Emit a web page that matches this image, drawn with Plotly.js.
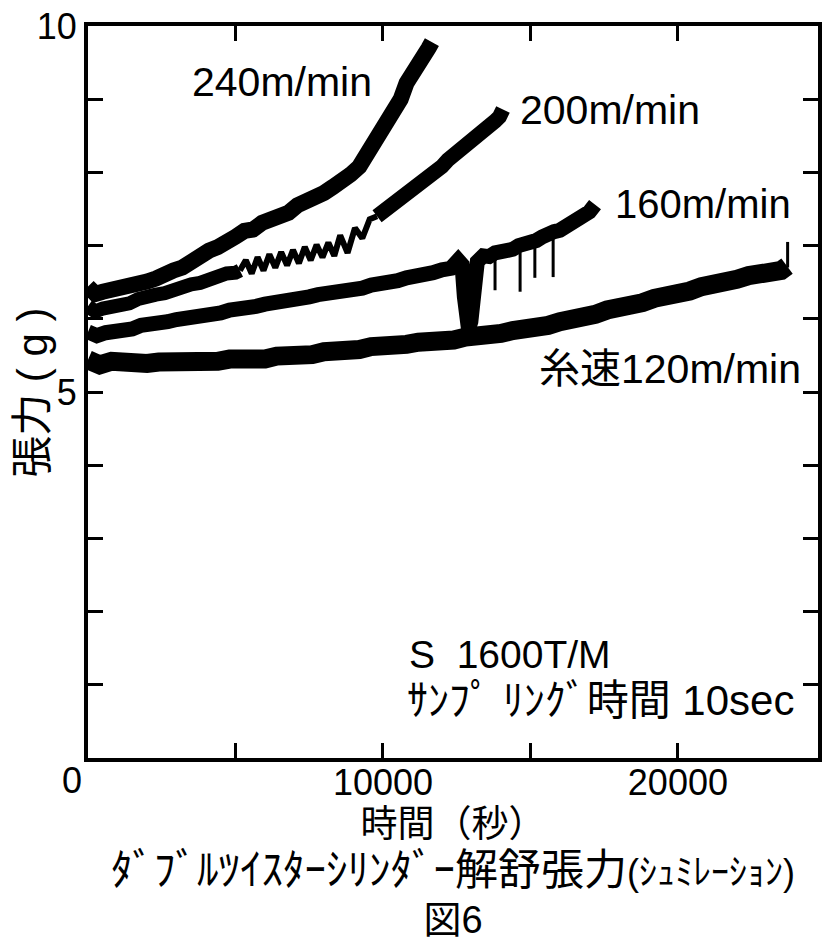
<!DOCTYPE html>
<html>
<head>
<meta charset="utf-8">
<script src="https://cdn.plot.ly/plotly-3.0.1.min.js"></script>
<style>html,body{margin:0;padding:0;background:#fff;}#chart{width:822px;height:949px;}</style>
</head>
<body>
<div id="chart"></div>
<script>
// ---- Data (time in seconds, tension in grams) ----
// 240 m/min
const t240 = [0, 250, 500, 800, 1100, 1400, 1700, 2000, 2300, 2600, 2900, 3200, 3500, 3800, 4100, 4400, 4700, 5000, 5300, 5600, 5900, 6200, 6500, 6800, 7100, 7400, 7700, 8000, 8300, 8600, 8900, 9200, 9450, 9700, 9950, 10200, 10400, 10600, 10800, 11000, 11200, 11400, 11550, 11660];
const g240 = [6.44, 6.34, 6.37, 6.39, 6.42, 6.44, 6.49, 6.51, 6.55, 6.58, 6.66, 6.70, 6.79, 6.84, 6.93, 6.98, 7.08, 7.12, 7.20, 7.22, 7.31, 7.35, 7.42, 7.45, 7.55, 7.59, 7.67, 7.72, 7.80, 7.87, 7.97, 8.08, 8.24, 8.36, 8.55, 8.66, 8.82, 9.00, 9.22, 9.38, 9.52, 9.63, 9.70, 9.78];
// 200 m/min (thick part, zig-zag part, thick part)
const t200a = [0, 250, 500, 800, 1100, 1400, 1700, 2000, 2300, 2600, 2900, 3200, 3500, 3800, 4100, 4400, 4700, 5000, 5150];
const g200a = [6.17, 6.10, 6.14, 6.15, 6.20, 6.21, 6.27, 6.28, 6.33, 6.35, 6.40, 6.42, 6.47, 6.49, 6.55, 6.56, 6.62, 6.63, 6.66];
const t200z = [5150, 5350, 5550, 5750, 5950, 6150, 6350, 6550, 6750, 6950, 7150, 7350, 7550, 7750, 7950, 8150, 8350, 8550, 8800, 9050, 9300, 9550, 9800];
const g200z = [6.66, 6.80, 6.62, 6.84, 6.66, 6.88, 6.70, 6.91, 6.73, 6.94, 6.76, 6.98, 6.80, 7.01, 6.84, 7.04, 6.86, 7.14, 6.90, 7.24, 7.10, 7.36, 7.40];
const t200b = [9800, 10000, 10200, 10400, 10600, 10800, 11000, 11200, 11400, 11600, 11800, 12000, 12200, 12400, 12600, 12800, 13000, 13200, 13400, 13600, 13800, 13950, 14070];
const g200b = [7.40, 7.46, 7.53, 7.57, 7.64, 7.68, 7.76, 7.81, 7.89, 7.95, 8.03, 8.08, 8.17, 8.23, 8.32, 8.37, 8.45, 8.50, 8.58, 8.62, 8.70, 8.76, 8.86];
// 160 m/min
const t160 = [0, 300, 600, 900, 1200, 1500, 1800, 2100, 2400, 2700, 3000, 3300, 3600, 3900, 4200, 4500, 4800, 5100, 5400, 5700, 6000, 6300, 6600, 6900, 7200, 7500, 7800, 8100, 8400, 8700, 9000, 9300, 9600, 9900, 10200, 10500, 10800, 11100, 11400, 11700, 12000, 12300, 12550, 12680, 12760, 12840, 12900, 12980, 13080, 13200, 13400, 13600, 13800, 14000, 14200, 14400, 14600, 14800, 15000, 15200, 15400, 15600, 15800, 16000, 16200, 16400, 16600, 16800, 17000, 17190];
const g160 = [5.82, 5.77, 5.81, 5.82, 5.86, 5.86, 5.91, 5.91, 5.95, 5.96, 5.99, 6.00, 6.03, 6.04, 6.08, 6.08, 6.12, 6.12, 6.16, 6.17, 6.20, 6.21, 6.25, 6.25, 6.29, 6.30, 6.33, 6.34, 6.37, 6.38, 6.42, 6.42, 6.46, 6.47, 6.50, 6.52, 6.56, 6.57, 6.62, 6.63, 6.67, 6.69, 6.80, 6.74, 6.30, 5.98, 5.86, 5.96, 6.35, 6.78, 6.86, 6.85, 6.90, 6.90, 6.95, 6.95, 7.00, 7.01, 7.05, 7.07, 7.12, 7.13, 7.19, 7.21, 7.26, 7.29, 7.35, 7.39, 7.46, 7.56];
const spike160T = [13800, 14650, 15150, 15770];
const spike160Top = [6.90, 7.00, 7.06, 7.19];
const spike160Min = [6.39, 6.37, 6.56, 6.57];
// 120 m/min
const t120 = [0, 400, 800, 1200, 1600, 2000, 2400, 2800, 3200, 3600, 4000, 4400, 4800, 5200, 5600, 6000, 6400, 6800, 7200, 7600, 8000, 8400, 8800, 9200, 9600, 10000, 10400, 10800, 11200, 11600, 12000, 12400, 12800, 13200, 13600, 14000, 14400, 14800, 15200, 15600, 16000, 16400, 16800, 17200, 17600, 18000, 18400, 18800, 19200, 19600, 20000, 20400, 20800, 21200, 21600, 22000, 22400, 22800, 23200, 23500, 23700];
const g120 = [5.44, 5.37, 5.42, 5.39, 5.42, 5.39, 5.41, 5.40, 5.43, 5.40, 5.43, 5.42, 5.45, 5.43, 5.46, 5.45, 5.49, 5.48, 5.52, 5.51, 5.55, 5.54, 5.58, 5.58, 5.62, 5.61, 5.65, 5.65, 5.68, 5.68, 5.71, 5.71, 5.75, 5.75, 5.79, 5.80, 5.84, 5.85, 5.89, 5.91, 5.96, 5.98, 6.04, 6.06, 6.12, 6.14, 6.20, 6.22, 6.28, 6.30, 6.36, 6.38, 6.44, 6.46, 6.52, 6.54, 6.59, 6.60, 6.65, 6.66, 6.72];
const spike120T = [23720];
const spike120Top = [7.05];
const spike120Min = [6.70];

// Axis ticks
const xTickVals = [5000, 10000, 15000, 20000];
const xTickText = ['', '10000', '', '20000'];
const yTickVals = [1, 2, 3, 4, 5, 6, 7, 8, 9, 10];
const yTickText = ['', '', '', '', '5', '', '', '', '', '10'];

// ---- Build traces ----
const INK = '#000000';
function band(x, y, w, name) {
  return {x: x, y: y, type: 'scatter', mode: 'lines', name: name,
          line: {color: INK, width: w}, hoverinfo: 'x+y'};
}
function spikes(t, top, min, w, name) {
  const xs = [], ys = [];
  for (let i = 0; i < t.length; i++) { xs.push(t[i], t[i], null); ys.push(top[i], min[i], null); }
  return {x: xs, y: ys, type: 'scatter', mode: 'lines', name: name,
          line: {color: INK, width: w}, hoverinfo: 'skip'};
}

const traces = [
  band(t120, g120, 19, '120m/min'),
  spikes(spike120T, spike120Top, spike120Min, 3, '120m/min'),
  band(t160, g160, 15, '160m/min'),
  spikes(spike160T, spike160Top, spike160Min, 3, '160m/min'),
  band(t200a, g200a, 14, '200m/min'),
  band(t200z, g200z, 6, '200m/min'),
  band(t200b, g200b, 15, '200m/min'),
  band(t240, g240, 16, '240m/min')
];

const LAT = 'Liberation Sans, Arial, Noto Sans CJK JP, sans-serif';

const xTitle = '時間（秒）<br>' +
  '<span style="font-size:43px">ﾀﾞﾌﾞﾙﾂｲｽﾀｰｼﾘﾝﾀﾞｰ解舒張力</span><span style="font-size:36px">(ｼｭﾐﾚｰｼｮﾝ)</span><br>' +
  '<span style="font-size:38px">図6</span>';

const layout = {
  width: 822, height: 949,
  margin: {l: 88, r: 4, t: 26, b: 191},
  paper_bgcolor: '#ffffff', plot_bgcolor: '#ffffff',
  showlegend: false,
  xaxis: {
    range: [0, 24750], tickvals: xTickVals, ticktext: xTickText,
    ticks: 'inside', ticklen: 15, tickwidth: 3, tickcolor: INK,
    showline: true, linewidth: 4, linecolor: INK, mirror: 'ticks',
    showgrid: false, zeroline: false, ticklabelstandoff: -10,
    tickfont: {family: LAT, size: 36, color: INK},
    title: {text: xTitle, font: {family: LAT, size: 37, color: INK}, standoff: 10}
  },
  yaxis: {
    range: [0, 10], tickvals: yTickVals, ticktext: yTickText,
    ticks: 'inside', ticklen: 15, tickwidth: 3, tickcolor: INK,
    showline: true, linewidth: 4, linecolor: INK, mirror: 'ticks',
    showgrid: false, zeroline: false, ticklabelstandoff: 0,
    tickfont: {family: LAT, size: 36, color: INK}
  },
  annotations: [
    {xref: 'paper', yref: 'paper', x: -0.0770, y: 0.4986, text: '張力 ( g )', textangle: -90,
     showarrow: false, xanchor: 'center', yanchor: 'middle', font: {family: LAT, size: 42, color: INK}},
    {xref: 'x', yref: 'y', x: 0, y: 0, xshift: -16, yshift: -22, text: '0', showarrow: false,
     xanchor: 'center', yanchor: 'middle', font: {family: LAT, size: 36, color: INK}},
    {xref: 'x', yref: 'y', x: 3458, y: 9.23, text: '240m/min', showarrow: false,
     xanchor: 'left', yanchor: 'middle', font: {family: LAT, size: 41, color: INK}},
    {xref: 'x', yref: 'y', x: 14576, y: 8.85, text: '200m/min', showarrow: false,
     xanchor: 'left', yanchor: 'middle', font: {family: LAT, size: 41, color: INK}},
    {xref: 'x', yref: 'y', x: 17797, y: 7.57, text: '160m/min', showarrow: false,
     xanchor: 'left', yanchor: 'middle', font: {family: LAT, size: 40, color: INK}},
    {xref: 'x', yref: 'y', x: 15220, y: 5.31, text: '糸速120m/min', showarrow: false,
     xanchor: 'left', yanchor: 'middle', font: {family: LAT, size: 41, color: INK}},
    {xref: 'x', yref: 'y', x: 10814, y: 1.41, text: 'S  1600T/M', showarrow: false,
     xanchor: 'left', yanchor: 'middle', font: {family: LAT, size: 39, color: INK}},
    {xref: 'x', yref: 'y', x: 10746, y: 0.78, text: 'ｻﾝﾌﾟ ﾘﾝｸﾞ時間 10sec', showarrow: false,
     xanchor: 'left', yanchor: 'middle', font: {family: LAT, size: 42, color: INK}}
  ]
};

Plotly.newPlot('chart', traces, layout, {staticPlot: true, displayModeBar: false});
</script>
</body>
</html>
